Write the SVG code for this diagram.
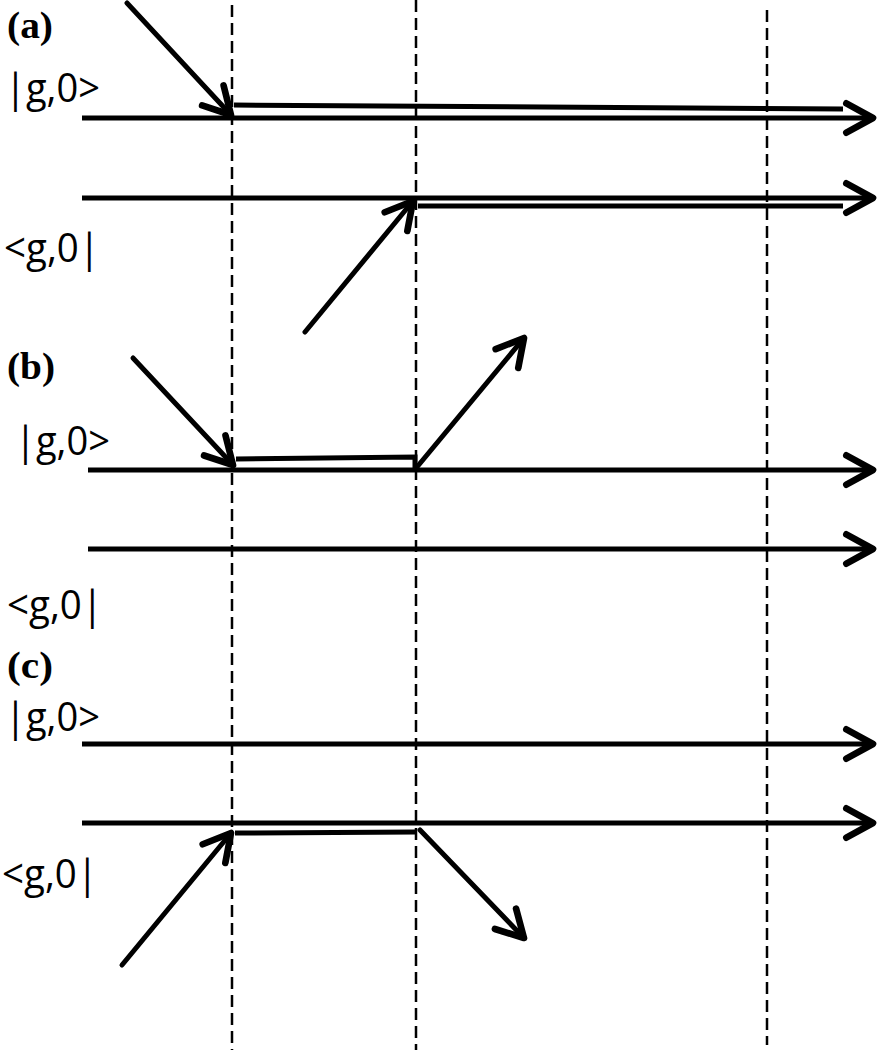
<svg xmlns="http://www.w3.org/2000/svg" width="888" height="1050" viewBox="0 0 888 1050">
<style>
.lbl{font-family:"Open Sans","Liberation Sans",sans-serif;font-size:41px;fill:#000}
.pan{font-family:"Liberation Serif","Times New Roman",serif;font-weight:bold;font-size:37px;fill:#000}
.ln{stroke:#000;stroke-width:5;fill:none;stroke-linecap:butt}
.ar{stroke:#000;stroke-width:5;fill:none;stroke-linecap:round}
.dash{stroke:#000;stroke-width:2.5;stroke-dasharray:12 6;fill:none}
</style>
<defs>
<marker id="ah" markerUnits="userSpaceOnUse" markerWidth="40" markerHeight="40" viewBox="-25 -15 30 30" refX="0" refY="0" orient="auto" overflow="visible">
<path d="M-20,-11 L0,0 L-20,11" fill="none" stroke="#000" stroke-width="5" stroke-linecap="round" stroke-linejoin="round"/>
</marker>
</defs>
<rect width="888" height="1050" fill="#fff"/>
<g id="guides">
<line class="dash" x1="232" y1="5" x2="232" y2="1050"/>
<line class="dash" x1="416" y1="0" x2="416" y2="1050"/>
<line class="dash" x1="767" y1="10" x2="767" y2="1045"/>
</g>
<g id="labels">
<text class="pan" x="7" y="38" textLength="46" lengthAdjust="spacingAndGlyphs">(a)</text>
<text class="pan" x="7" y="379" textLength="48" lengthAdjust="spacingAndGlyphs">(b)</text>
<text class="pan" x="7" y="678" textLength="46" lengthAdjust="spacingAndGlyphs">(c)</text>
<text class="lbl" x="5" y="102" textLength="95" lengthAdjust="spacingAndGlyphs">|g,0&gt;</text>
<text class="lbl" x="4" y="262" textLength="96" lengthAdjust="spacingAndGlyphs">&lt;g,0|</text>
<text class="lbl" x="15" y="455" textLength="95" lengthAdjust="spacingAndGlyphs">|g,0&gt;</text>
<text class="lbl" x="7" y="619" textLength="96" lengthAdjust="spacingAndGlyphs">&lt;g,0|</text>
<text class="lbl" x="5" y="731" textLength="95" lengthAdjust="spacingAndGlyphs">|g,0&gt;</text>
<text class="lbl" x="2" y="888" textLength="96" lengthAdjust="spacingAndGlyphs">&lt;g,0|</text>
</g>
<g id="connectors">
<!-- panel a -->
<line class="ln" x1="82" y1="118" x2="873" y2="118" marker-end="url(#ah)"/>
<line class="ln" x1="82" y1="198" x2="873" y2="198" marker-end="url(#ah)"/>
<line class="ln" x1="234" y1="105" x2="843" y2="109"/>
<line class="ln" x1="418" y1="206" x2="843" y2="206"/>
<line class="ar" x1="127" y1="3" x2="231" y2="115" marker-end="url(#ah)"/>
<line class="ar" x1="305" y1="332" x2="413" y2="201" marker-end="url(#ah)"/>
<!-- panel b -->
<line class="ln" x1="88" y1="470" x2="873" y2="470" marker-end="url(#ah)"/>
<line class="ln" x1="88" y1="549" x2="873" y2="549" marker-end="url(#ah)"/>
<path class="ln" d="M236,459 L415,457 L415,468"/>
<line class="ar" x1="133" y1="358" x2="233" y2="465" marker-end="url(#ah)"/>
<line class="ar" x1="417" y1="467" x2="524" y2="338" marker-end="url(#ah)"/>
<!-- panel c -->
<line class="ln" x1="82" y1="744" x2="873" y2="744" marker-end="url(#ah)"/>
<line class="ln" x1="82" y1="823" x2="873" y2="823" marker-end="url(#ah)"/>
<line class="ln" x1="235" y1="833" x2="416" y2="832"/>
<line class="ar" x1="122" y1="965" x2="231" y2="833" marker-end="url(#ah)"/>
<line class="ar" x1="420" y1="830" x2="524" y2="938" marker-end="url(#ah)"/>
</g>
</svg>
